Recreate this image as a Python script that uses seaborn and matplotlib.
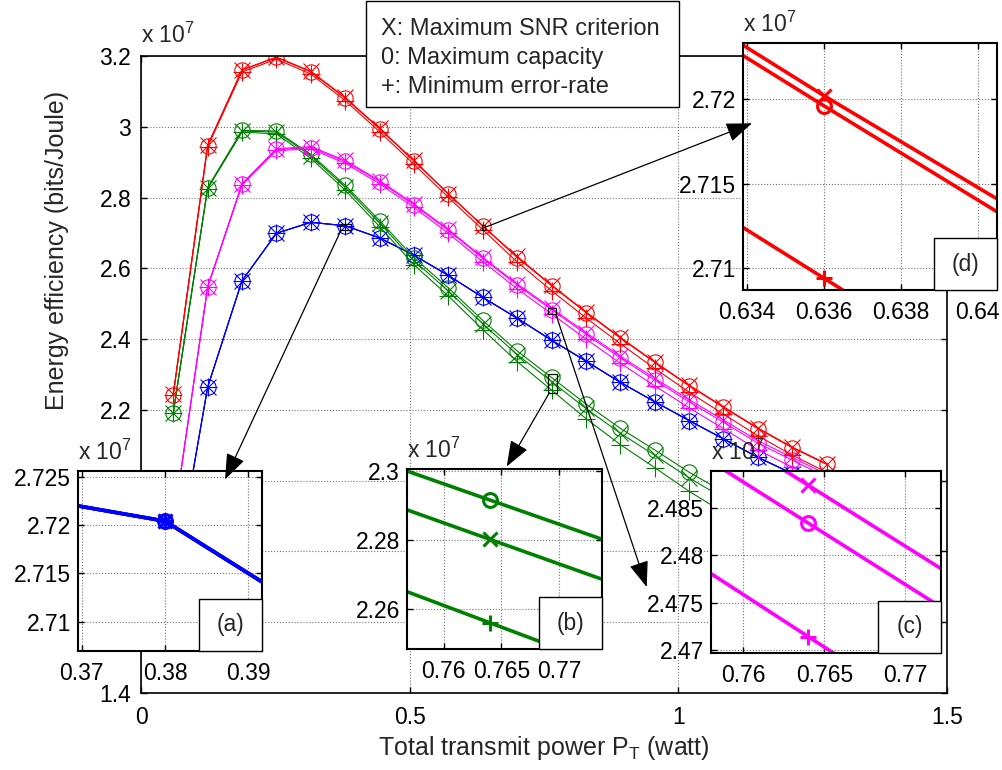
import matplotlib
matplotlib.use("Agg")
import matplotlib.pyplot as plt
from matplotlib.patches import Rectangle, ConnectionPatch
import seaborn as sns

# ---------------------------------------------------------------------------
# Data: energy efficiency in units of 1e7 bits/Joule versus total transmit power
# ---------------------------------------------------------------------------
p_t = [0.060, 0.124, 0.188, 0.252, 0.316, 0.380, 0.444, 0.508, 0.572, 0.636,
       0.700, 0.764, 0.828, 0.892, 0.956, 1.020, 1.084, 1.148, 1.212, 1.276]

red_snr = [2.244, 2.948, 3.161, 3.197, 3.157, 3.083, 2.996, 2.905, 2.811, 2.7202,
           2.6335, 2.553, 2.477, 2.405, 2.336, 2.270, 2.209, 2.149, 2.095, 2.048]
red_cap = [2.243, 2.947, 3.160, 3.196, 3.155, 3.081, 2.994, 2.903, 2.810, 2.7196,
           2.6306, 2.551, 2.475, 2.403, 2.334, 2.268, 2.207, 2.147, 2.093, 2.046]
red_err = [2.241, 2.943, 3.155, 3.191, 3.149, 3.074, 2.986, 2.894, 2.8005, 2.7094,
           2.6179, 2.537, 2.460, 2.387, 2.317, 2.250, 2.188, 2.127, 2.072, 2.024]

green_snr = [2.192, 2.827, 2.988, 2.985, 2.918, 2.829, 2.728, 2.622, 2.536, 2.4435,
             2.3564, 2.2802, 2.2040, 2.134, 2.072, 2.008, 1.951, 1.896, 1.843, 1.792]
green_cap = [2.192, 2.828, 2.990, 2.988, 2.922, 2.835, 2.735, 2.630, 2.545, 2.453,
             2.3665, 2.2916, 2.2167, 2.148, 2.087, 2.024, 1.968, 1.914, 1.862, 1.812]
green_err = [2.191, 2.825, 2.985, 2.980, 2.911, 2.821, 2.718, 2.610, 2.522, 2.427,
             2.3364, 2.2560, 2.1756, 2.102, 2.037, 1.970, 1.910, 1.852, 1.796, 1.742]

magenta_snr = [1.877, 2.548, 2.839, 2.938, 2.944, 2.905, 2.848, 2.782, 2.710, 2.631,
               2.5562, 2.4874, 2.4186, 2.352, 2.2895, 2.229, 2.1715, 2.113, 2.0655, 2.018]
magenta_cap = [1.877, 2.547, 2.838, 2.936, 2.941, 2.902, 2.845, 2.779, 2.707, 2.628,
               2.5527, 2.4834, 2.4141, 2.347, 2.284, 2.223, 2.165, 2.106, 2.058, 2.010]
magenta_err = [1.877, 2.546, 2.836, 2.933, 2.937, 2.897, 2.839, 2.772, 2.699, 2.619,
               2.5424, 2.4714, 2.4004, 2.332, 2.268, 2.206, 2.147, 2.087, 2.038, 1.989]

blue_snr = [1.703, 2.264, 2.565, 2.699, 2.730, 2.7204, 2.686, 2.637, 2.580, 2.518,
            2.459, 2.397, 2.338, 2.278, 2.223, 2.170, 2.118, 2.066, 2.020, 1.975]
blue_cap = list(blue_snr)
blue_err = list(blue_snr)

x_ticks = [0, 0.5, 1, 1.5]
x_tick_labels = ["0", "0.5", "1", "1.5"]
y_ticks = [1.4, 1.6, 1.8, 2.0, 2.2, 2.4, 2.6, 2.8, 3.0, 3.2]
y_tick_labels = ["1.4", "1.6", "1.8", "2", "2.2", "2.4", "2.6", "2.8", "3", "3.2"]

legend_lines = ["X: Maximum SNR criterion", "0: Maximum capacity", "+: Minimum error-rate"]

# zoomed windows: (x range, y range, x ticks, x labels, y ticks, y labels, tag)
zoom_a = ((0.3695, 0.3917), (2.7070, 2.7256), [0.37, 0.38, 0.39], ["0.37", "0.38", "0.39"],
          [2.71, 2.715, 2.72, 2.725], ["2.71", "2.715", "2.72", "2.725"], "(a)")
zoom_b = ((0.7568, 0.7737), (2.2483, 2.3005), [0.76, 0.765, 0.77], ["0.76", "0.765", "0.77"],
          [2.26, 2.28, 2.30], ["2.26", "2.28", "2.3"], "(b)")
zoom_c = ((0.7580, 0.7722), (2.4697, 2.4889), [0.76, 0.765, 0.77], ["0.76", "0.765", "0.77"],
          [2.47, 2.475, 2.48, 2.485], ["2.47", "2.475", "2.48", "2.485"], "(c)")
zoom_d = ((0.6339, 0.6405), (2.7087, 2.7233), [0.634, 0.636, 0.638, 0.640],
          ["0.634", "0.636", "0.638", "0.64"],
          [2.71, 2.715, 2.72], ["2.71", "2.715", "2.72"], "(d)")

# ---------------------------------------------------------------------------
sns.set_style("white")
plt.rcParams["font.family"] = ["Liberation Sans", "DejaVu Sans"]
plt.rcParams["mathtext.fontset"] = "custom"
plt.rcParams["mathtext.rm"] = "Liberation Sans"
plt.rcParams["mathtext.it"] = "Liberation Sans:italic"
plt.rcParams["mathtext.bf"] = "Liberation Sans:bold"

W, H = 1003, 770
fig = plt.figure(figsize=(W / 100, H / 100), dpi=100)
fig.patch.set_facecolor("white")

TICK_FS = 16.5


def px_rect(l, r, t, b):
    return [l / W, (H - b) / H, (r - l) / W, (b - t) / H]


colors = {"red": "#ff0000", "green": "#008000", "magenta": "#ff00ff", "blue": "#0000ff"}
series = [
    ("blue", blue_snr, blue_cap, blue_err),
    ("green", green_snr, green_cap, green_err),
    ("magenta", magenta_snr, magenta_cap, magenta_err),
    ("red", red_snr, red_cap, red_err),
]
crit_markers = ["x", "o", "+"]


def draw_curves(ax, lw, ms, mew, scale_plus):
    for name, s_snr, s_cap, s_err in series:
        col = colors[name]
        for vals, mk in zip((s_snr, s_cap, s_err), crit_markers):
            size = ms * (scale_plus if mk == "+" else 1.0)
            sns.lineplot(x=p_t, y=vals, ax=ax, color=col, marker=mk, markersize=size,
                         markerfacecolor="none", markeredgecolor=col, markeredgewidth=mew,
                         linewidth=lw, legend=False, sort=False, errorbar=None)


def style_axes(ax, spine_lw, xpad, ypad):
    for sp in ax.spines.values():
        sp.set_visible(True)
        sp.set_color("black")
        sp.set_linewidth(spine_lw)
    ax.tick_params(direction="in", length=4, width=1.0, colors="black",
                   top=True, right=True, bottom=True, left=True,
                   labelsize=TICK_FS)
    ax.tick_params(axis="x", pad=xpad)
    ax.tick_params(axis="y", pad=ypad)
    ax.grid(True, linestyle=":", color="0.45", linewidth=0.8)
    ax.set_axisbelow(True)
    ax.set_xlabel("")
    ax.set_ylabel("")


# ---------------------------------------------------------------------------
# main panel
ax = fig.add_axes(px_rect(141, 947, 56, 693))
ax.set_facecolor("white")
draw_curves(ax, lw=0.8, ms=11, mew=0.8, scale_plus=1.15)
ax.set_xlim(0, 1.5)
ax.set_ylim(1.4, 3.2)
ax.set_xticks(x_ticks)
ax.set_xticklabels(x_tick_labels)
ax.set_yticks(y_ticks)
ax.set_yticklabels(y_tick_labels)
style_axes(ax, 1.2, 9, 7)

fig.text(141 / W, (H - 43) / H, r"x 10$^{7}$", fontsize=TICK_FS, ha="left", va="baseline")
fig.text(57 / W, (H - 250) / H, "Energy efficiency (bits/Joule)", fontsize=18,
         rotation=90, ha="center", va="center")
fig.text(544 / W, (H - 748) / H, r"Total transmit power P$_{\mathrm{T}}$ (watt)",
         fontsize=18, ha="center", va="center")

# legend box (text only)
fig.add_artist(Rectangle((366 / W, (H - 107) / H), (679 - 366) / W, (107 - 1) / H,
                         transform=fig.transFigure, facecolor="white", edgecolor="black",
                         linewidth=1.0, zorder=5))
for line, base in zip(legend_lines, [35, 64.3, 93.3]):
    fig.text(381 / W, (H - base) / H, line, fontsize=17, ha="left", va="baseline", zorder=6)

# ---------------------------------------------------------------------------
# zoomed insets
inset_px = [
    (zoom_a, (77.7, 262.3, 470.7, 651.0)),
    (zoom_b, (406.7, 601.7, 469.3, 649.3)),
    (zoom_c, (711.0, 941.0, 471.0, 652.7)),
    (zoom_d, (743.3, 996.7, 43.3, 290.0)),
]

arrow_specs = [
    # (zoom, tail point on main axes, arrow tip in pixels from top-left)
    (zoom_a, (0.372, 2.7070), (225.0, 479.5)),
    (zoom_b, (0.760, 2.2483), (506.7, 466.5)),
    (zoom_c, (0.7722, 2.4697), (646.7, 587.0)),
    (zoom_d, (0.6405, 2.7160), (752.0, 123.3)),
]

for zoom, (l, r, t, b) in inset_px:
    (xr, yr, xt, xtl, yt, ytl, tag) = zoom
    iax = fig.add_axes(px_rect(l, r, t, b))
    iax.set_facecolor("white")
    draw_curves(iax, lw=2.6, ms=10, mew=2.2, scale_plus=1.2)
    iax.set_xlim(*xr)
    iax.set_ylim(*yr)
    iax.set_xticks(xt)
    iax.set_xticklabels(xtl)
    iax.set_yticks(yt)
    iax.set_yticklabels(ytl)
    style_axes(iax, 1.5, 8, 5)
    fig.text(l / W, (H - (t - 11)) / H, r"x 10$^{7}$", fontsize=TICK_FS,
             ha="left", va="baseline")
    # tag box in the lower right corner
    bw, bh = 63.0 / (r - l), 52.0 / (b - t)
    iax.add_patch(Rectangle((1 - bw, 0), bw, bh, transform=iax.transAxes,
                            facecolor="white", edgecolor="black", linewidth=1.0,
                            zorder=10, clip_on=False))
    iax.text(1 - bw / 2, bh / 2, tag, transform=iax.transAxes, fontsize=TICK_FS,
             ha="center", va="center", zorder=11)

    # outline of the zoomed window on the main panel
    ax.add_patch(Rectangle((xr[0], yr[0]), xr[1] - xr[0], yr[1] - yr[0],
                           fill=False, edgecolor="black", linewidth=0.9, zorder=10))

for zoom, tail, tip in arrow_specs:
    con = ConnectionPatch(xyA=tail, coordsA=ax.transData,
                          xyB=(tip[0], H - tip[1]), coordsB="figure pixels",
                          arrowstyle="-|>,head_length=0.8,head_width=0.3",
                          mutation_scale=20, color="black", linewidth=0.9,
                          shrinkA=0, shrinkB=0, zorder=20)
    fig.add_artist(con)

fig.savefig("out.png", dpi=100, facecolor="white")
